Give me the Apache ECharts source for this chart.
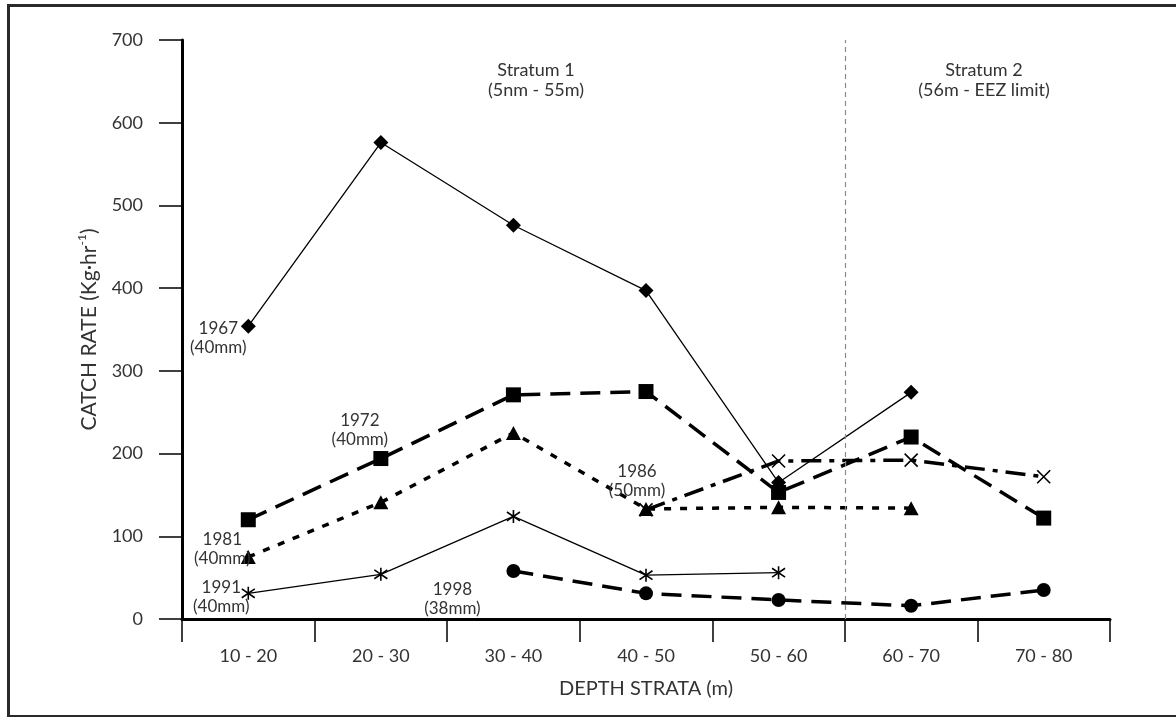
<!DOCTYPE html>
<html>
<head>
<meta charset="utf-8">
<title>Catch rate by depth strata</title>
<script src="https://cdn.jsdelivr.net/npm/echarts@6/dist/echarts.min.js"></script>
<style>
  html, body { margin: 0; padding: 0; background: #fff; }
  #chart { width: 1176px; height: 717px; }
</style>
</head>
<body>
<div id="chart"></div>
<script>
// Depth strata (m) along the x axis
const categories = ['10 - 20', '20 - 30', '30 - 40', '40 - 50', '50 - 60', '60 - 70', '70 - 80'];

// Catch rate (kg per hour) per survey year; null = stratum not sampled
const catch1967 = [354, 576, 476, 397, 165, 274, null];
const catch1972 = [120, 194, 271, 275, 153, 220, 122];
const catch1981 = [75, 141, 225, 133, 135, 134, null];
const catch1986 = [null, null, null, 132, 191, 192, 172];
const catch1991 = [31, 54, 124, 53, 56, null, null];
const catch1998 = [null, null, 58, 31, 23, 16, 35];

// Y axis ticks
const yTicks = [0, 100, 200, 300, 400, 500, 600, 700];

// Stratum boundary, in category units from the left of the axis
const stratumBoundary = 5;

const FONT = 'Lato';
const TEXT = '#333';

// Stroked marker shapes for the 1986 and 1991 series
const crossPath = 'path://M0 0L10 10M0 10L10 0';
const asteriskPath = 'path://M0 1.6L10 8.4M0 8.4L10 1.6M5 0L5 10';

// Attach a two-line year/mesh caption to one point of a series
function buildData(values, caption) {
  return values.map(function (v, i) {
    if (caption && caption.index === i) {
      return {
        value: v,
        label: {
          show: true,
          position: 'inside',
          offset: caption.offset,
          formatter: caption.text,
          color: TEXT,
          fontFamily: FONT,
          fontSize: 17,
          lineHeight: 19,
          align: 'center',
          verticalAlign: 'middle'
        }
      };
    }
    return v;
  });
}

function lineSeries(name, values, opts) {
  return {
    name: name,
    type: 'line',
    data: buildData(values, opts.caption),
    showSymbol: true,
    showAllSymbol: true,
    symbol: opts.symbol,
    symbolSize: opts.size,
    lineStyle: { color: '#000', width: opts.width, type: opts.dash || 'solid', cap: 'butt' },
    itemStyle: opts.stroked
      ? { color: 'rgba(0,0,0,0)', borderColor: '#000', borderWidth: 1.6 }
      : { color: '#000' },
    emphasis: { disabled: true },
    z: opts.z || 2
  };
}

const series = [
  lineSeries('1998', catch1998, {
    symbol: 'circle', size: 14, width: 3.5, dash: [20, 10],
    caption: { index: 2, text: '1998\n(38mm)', offset: [-61, 28] }
  }),
  lineSeries('1991', catch1991, {
    symbol: asteriskPath, size: 13, width: 1.3, stroked: true,
    caption: { index: 0, text: '1991\n(40mm)', offset: [-27, 4] }
  }),
  lineSeries('1986', catch1986, {
    symbol: crossPath, size: 13, width: 3.5, dash: [20, 8, 5, 8], stroked: true,
    caption: { index: 3, text: '1986\n(50mm)', offset: [-9, -29] }
  }),
  lineSeries('1981', catch1981, {
    symbol: 'triangle', size: [15, 14], width: 3.5, dash: [7, 9],
    caption: { index: 0, text: '1981\n(40mm)', offset: [-26, -8] }
  }),
  lineSeries('1972', catch1972, {
    symbol: 'rect', size: 15, width: 3.5, dash: [20, 10],
    caption: { index: 1, text: '1972\n(40mm)', offset: [-21, -29] }
  }),
  lineSeries('1967', catch1967, {
    symbol: 'diamond', size: 15, width: 1.3,
    caption: { index: 0, text: '1967\n(40mm)', offset: [-30, 12] }
  }),
  {
    // Stratum 1 / Stratum 2 divider
    name: 'divider',
    type: 'line',
    xAxisIndex: 1,
    data: [],
    markLine: {
      silent: true,
      symbol: ['none', 'none'],
      label: { show: false },
      lineStyle: { color: '#8a8a8a', width: 1.2, type: [5, 4] },
      data: [{ xAxis: stratumBoundary }]
    }
  }
];

const chart = echarts.init(document.getElementById('chart'), null, { renderer: 'canvas' });

chart.setOption({
  animation: false,
  backgroundColor: '#fff',
  textStyle: { fontFamily: FONT },
  grid: { left: 182, right: 66, top: 40, bottom: 98 },
  xAxis: [
    {
      type: 'category',
      data: categories,
      boundaryGap: true,
      axisLine: { lineStyle: { color: '#000', width: 3 } },
      axisTick: { show: true, length: 23, lineStyle: { color: '#000', width: 1.5 } },
      axisLabel: { margin: 28, fontSize: 18, color: TEXT, fontFamily: FONT },
      splitLine: { show: false },
      name: 'DEPTH STRATA (m)',
      nameLocation: 'middle',
      nameGap: 60,
      nameTextStyle: { fontSize: 20, color: TEXT, fontFamily: FONT }
    },
    {
      type: 'value',
      min: 0,
      max: categories.length,
      show: false
    }
  ],
  yAxis: {
    type: 'value',
    min: yTicks[0],
    max: yTicks[yTicks.length - 1],
    interval: yTicks[1] - yTicks[0],
    splitLine: { show: false },
    axisLine: { show: true, lineStyle: { color: '#000', width: 3 } },
    axisTick: { show: true, length: 23, lineStyle: { color: '#000', width: 1.5 } },
    axisLabel: { margin: 39, fontSize: 18, color: TEXT, fontFamily: FONT },
    name: 'CATCH RATE (Kg·hr{sup|-1})',
    nameLocation: 'middle',
    nameRotate: 90,
    nameGap: 80,
    nameTextStyle: {
      fontSize: 21,
      color: TEXT,
      fontFamily: FONT,
      rich: {
        sup: { fontSize: 12, color: TEXT, fontFamily: FONT, verticalAlign: 'top', lineHeight: 26 }
      }
    }
  },
  graphic: [
    {
      type: 'rect',
      left: 6,
      top: 3,
      shape: { width: 1200, height: 711 },
      style: { fill: 'none', stroke: '#2a2a2a', lineWidth: 3 },
      silent: true,
      z: 0
    },
    {
      type: 'text',
      x: 536,
      y: 60,
      style: {
        text: 'Stratum 1\n(5nm - 55m)',
        align: 'center',
        verticalAlign: 'top',
        fill: TEXT,
        font: '18px Lato',
        lineHeight: 20
      }
    },
    {
      type: 'text',
      x: 984,
      y: 60,
      style: {
        text: 'Stratum 2\n(56m - EEZ limit)',
        align: 'center',
        verticalAlign: 'top',
        fill: TEXT,
        font: '18px Lato',
        lineHeight: 20
      }
    }
  ],
  series: series
});
</script>
</body>
</html>
